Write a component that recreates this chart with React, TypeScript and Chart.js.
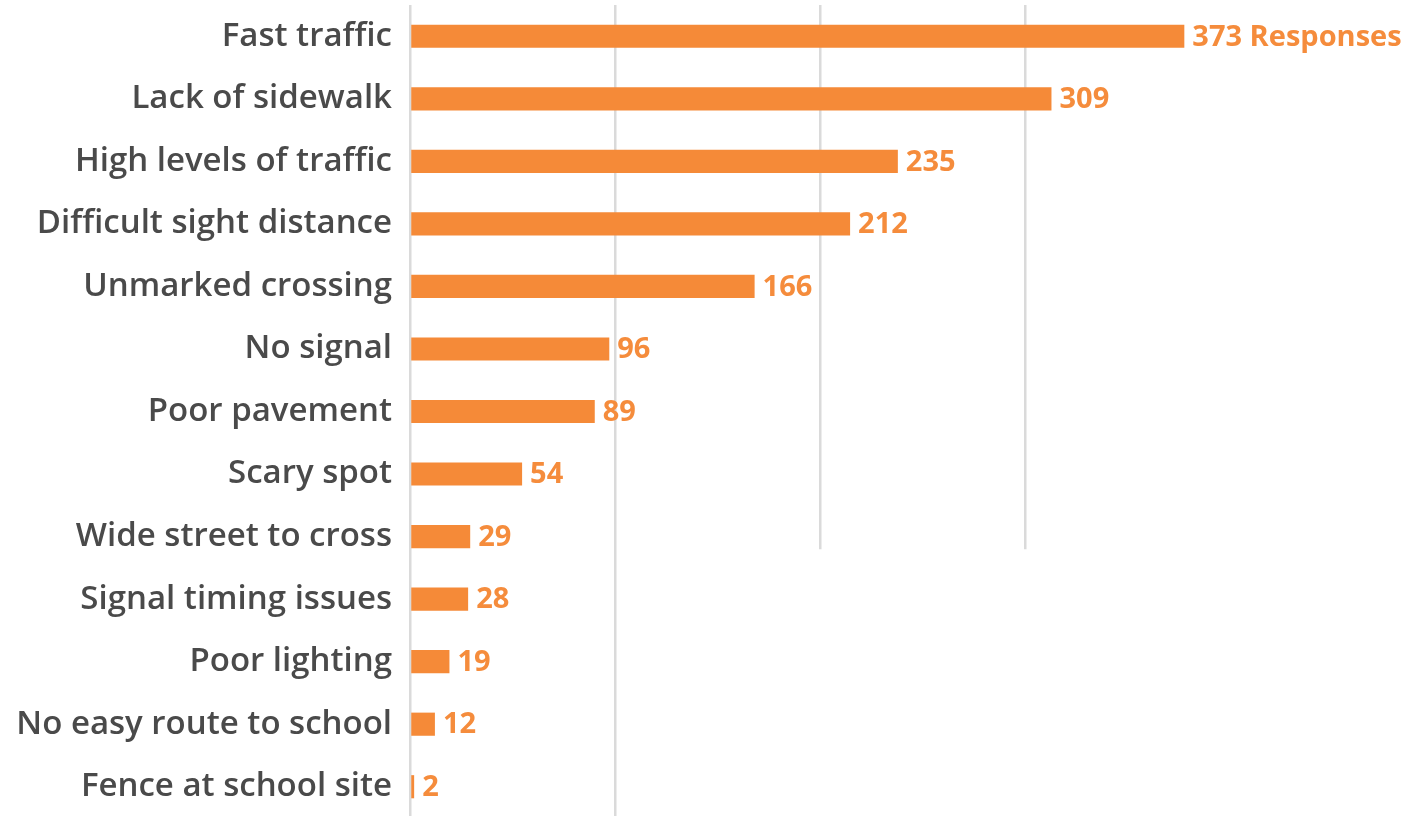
import React, { useEffect, useRef } from "react";
import { Chart, registerables } from "chart.js";

Chart.register(...registerables);

const categories = [
  "Fast traffic",
  "Lack of sidewalk",
  "High levels of traffic",
  "Difficult sight distance",
  "Unmarked crossing",
  "No signal",
  "Poor pavement",
  "Scary spot",
  "Wide street to cross",
  "Signal timing issues",
  "Poor lighting",
  "No easy route to school",
  "Fence at school site",
];
const responses = [373, 309, 235, 212, 166, 96, 89, 54, 29, 28, 19, 12, 2];
const firstLabelSuffix = " Responses";
const lastGridValue = 300;

const ORANGE = "#F58A38";
const LABEL_ORANGE = "#F58C3C";
const TEXT_GRAY = "#4a4a4a";
const GRID = "#dadada";

const W = 1422;
const H = 818;

const valueLabels = {
  id: "valueLabels",
  afterDatasetsDraw(chart: any) {
    const ctx = chart.ctx;
    const meta = chart.getDatasetMeta(0);
    ctx.save();
    ctx.fillStyle = LABEL_ORANGE;
    ctx.font = "bold 29px 'Open Sans'";
    ctx.textAlign = "left";
    ctx.textBaseline = "middle";
    meta.data.forEach((bar: any, i: number) => {
      const v = responses[i];
      const t = String(v) + (i === 0 ? firstLabelSuffix : "");
      ctx.fillText(t, bar.x + 8, bar.y + 1);
    });
    ctx.restore();
  },
};

const whitePatch = {
  id: "whitePatch",
  beforeDatasetsDraw(chart: any) {
    const ctx = chart.ctx;
    const meta = chart.getDatasetMeta(0);
    const xs = chart.scales.x;
    const bar = meta.data[8];
    const x0 = xs.getPixelForValue(131);
    const y0 = bar.y + bar.height / 2 + 1;
    const x1 = chart.width;
    const y1 = chart.height;
    const r = 40;
    ctx.save();
    ctx.fillStyle = "#ffffff";
    ctx.beginPath();
    ctx.moveTo(x0 + r, y0);
    ctx.lineTo(x1, y0);
    ctx.lineTo(x1, y1);
    ctx.lineTo(x0, y1);
    ctx.lineTo(x0, y0 + r);
    ctx.quadraticCurveTo(x0, y0, x0 + r, y0);
    ctx.closePath();
    ctx.fill();
    ctx.restore();
  },
};

export default function App() {
  const ref = useRef<HTMLCanvasElement | null>(null);
  useEffect(() => {
    if (!ref.current) return;
    const chart = new Chart(ref.current, {
      type: "bar",
      data: {
        labels: categories,
        datasets: [
          {
            data: responses,
            backgroundColor: ORANGE,
            borderWidth: 0,
            barPercentage: 0.37,
            categoryPercentage: 1,
          },
        ],
      },
      options: {
        indexAxis: "y",
        animation: false,
        responsive: false,
        maintainAspectRatio: false,
        layout: { padding: { top: 5, bottom: 0, left: 0, right: 192 } },
        plugins: {
          legend: { display: false },
          tooltip: { enabled: false },
        },
        scales: {
          x: {
            min: 0,
            max: 395,
            position: "bottom",
            ticks: { display: false, stepSize: 100 },
            grid: {
              color: (c: any) =>
                c.tick && c.tick.value > lastGridValue + 1 ? "rgba(0,0,0,0)" : GRID,
              lineWidth: 2.5,
              drawTicks: false,
            },
            border: { display: false },
            afterFit: (scale: any) => {
              scale.height = 0;
              scale.paddingLeft = 0;
              scale.paddingRight = 0;
            },
          },
          y: {
            ticks: {
              color: TEXT_GRAY,
              font: { family: "'Open Sans'", size: 33, weight: 600 },
              padding: 18,
            },
            grid: { display: false, drawTicks: false },
            border: { display: false },
            afterFit: (scale: any) => {
              scale.width = 410;
              scale.paddingTop = 0;
              scale.paddingBottom = 0;
            },
          },
        },
      },
      plugins: [whitePatch, valueLabels],
    });
    return () => chart.destroy();
  }, []);
  return (
    <div style={{ position: "fixed", left: 0, top: 0, width: W, height: H, background: "#fff" }}>
      <canvas ref={ref} width={W} height={H} style={{ width: W, height: H }} />
    </div>
  );
}
